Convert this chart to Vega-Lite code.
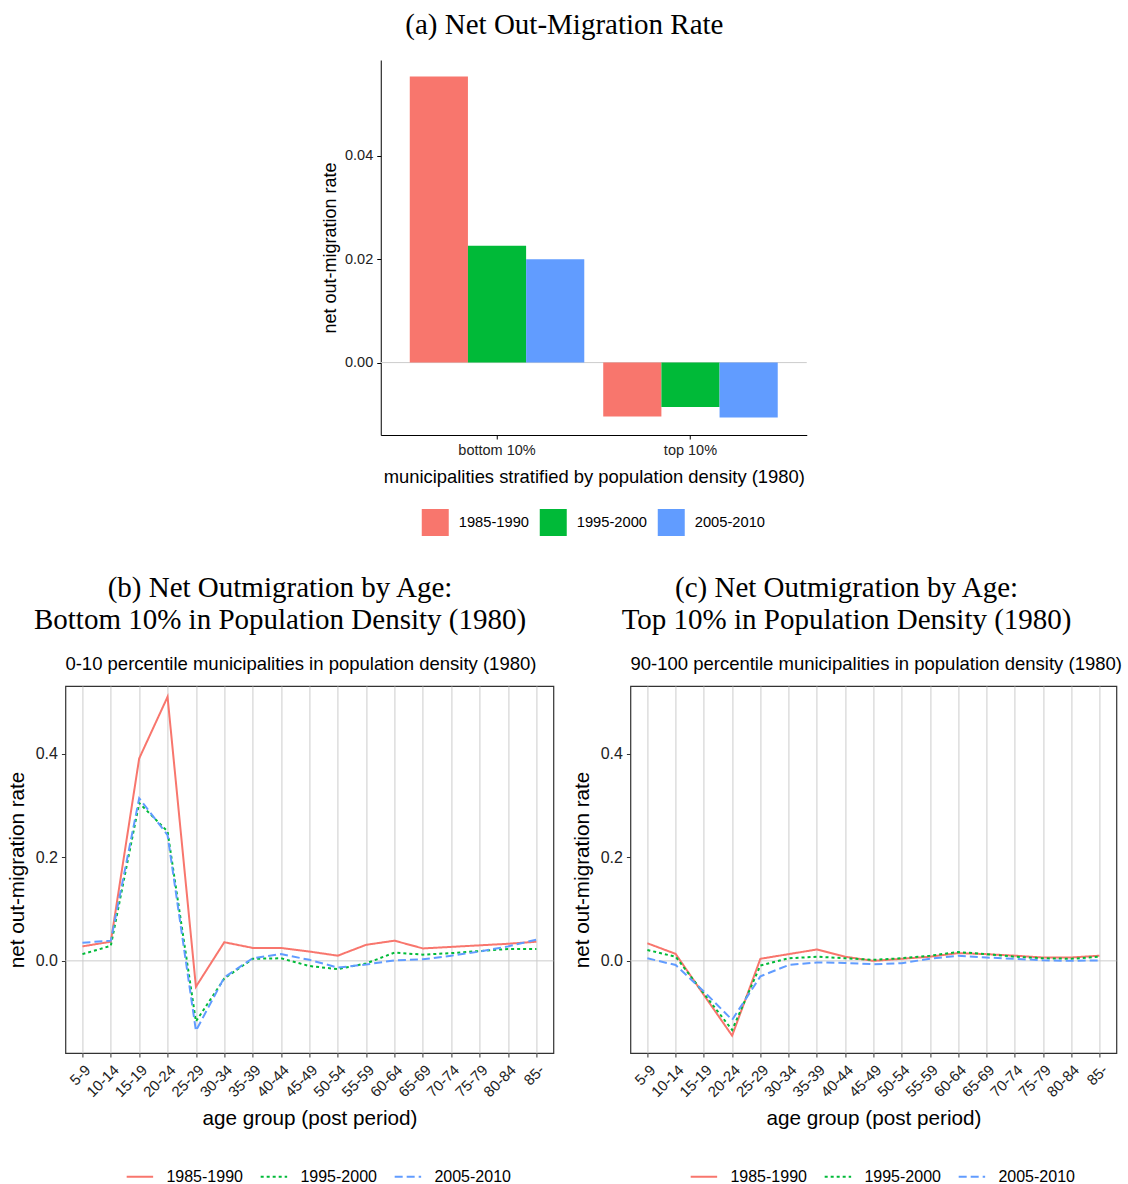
{
  "$schema": "https://vega.github.io/schema/vega-lite/v6.json",
  "background": "white",
  "padding": {"left": 5, "right": 5, "top": 11, "bottom": 5},
  "config": {
    "font": "Liberation Sans",
    "view": {"stroke": null},
    "axis": {"labelFont": "Liberation Sans", "titleFont": "Liberation Sans", "titleFontWeight": "normal", "labelColor": "#222222", "titleColor": "#000000", "domainColor": "#000000", "tickColor": "#333333"},
    "legend": {"labelFont": "Liberation Sans", "labelColor": "#000000", "layout": {"bottom": {"anchor": "middle"}}},
    "title": {"font": "Liberation Serif", "fontWeight": "normal", "color": "#000000"}
  },
  "datasets": {
    "bars": [
      {"region": "bottom 10%", "period": "1985-1990", "rate": 0.0553},
      {"region": "bottom 10%", "period": "1995-2000", "rate": 0.0226},
      {"region": "bottom 10%", "period": "2005-2010", "rate": 0.0200},
      {"region": "top 10%", "period": "1985-1990", "rate": -0.0104},
      {"region": "top 10%", "period": "1995-2000", "rate": -0.0086},
      {"region": "top 10%", "period": "2005-2010", "rate": -0.0106}
    ],
    "bottom": [
      {"age": "5-9", "period": "1985-1990", "rate": 0.028},
      {"age": "10-14", "period": "1985-1990", "rate": 0.037},
      {"age": "15-19", "period": "1985-1990", "rate": 0.391},
      {"age": "20-24", "period": "1985-1990", "rate": 0.510},
      {"age": "25-29", "period": "1985-1990", "rate": -0.050},
      {"age": "30-34", "period": "1985-1990", "rate": 0.036},
      {"age": "35-39", "period": "1985-1990", "rate": 0.025},
      {"age": "40-44", "period": "1985-1990", "rate": 0.025},
      {"age": "45-49", "period": "1985-1990", "rate": 0.018},
      {"age": "50-54", "period": "1985-1990", "rate": 0.010},
      {"age": "55-59", "period": "1985-1990", "rate": 0.031},
      {"age": "60-64", "period": "1985-1990", "rate": 0.039},
      {"age": "65-69", "period": "1985-1990", "rate": 0.024},
      {"age": "70-74", "period": "1985-1990", "rate": 0.027},
      {"age": "75-79", "period": "1985-1990", "rate": 0.030},
      {"age": "80-84", "period": "1985-1990", "rate": 0.033},
      {"age": "85-", "period": "1985-1990", "rate": 0.037},
      {"age": "5-9", "period": "1995-2000", "rate": 0.013},
      {"age": "10-14", "period": "1995-2000", "rate": 0.029},
      {"age": "15-19", "period": "1995-2000", "rate": 0.305},
      {"age": "20-24", "period": "1995-2000", "rate": 0.250},
      {"age": "25-29", "period": "1995-2000", "rate": -0.117},
      {"age": "30-34", "period": "1995-2000", "rate": -0.034},
      {"age": "35-39", "period": "1995-2000", "rate": 0.004},
      {"age": "40-44", "period": "1995-2000", "rate": 0.005},
      {"age": "45-49", "period": "1995-2000", "rate": -0.010},
      {"age": "50-54", "period": "1995-2000", "rate": -0.016},
      {"age": "55-59", "period": "1995-2000", "rate": -0.005},
      {"age": "60-64", "period": "1995-2000", "rate": 0.016},
      {"age": "65-69", "period": "1995-2000", "rate": 0.012},
      {"age": "70-74", "period": "1995-2000", "rate": 0.015},
      {"age": "75-79", "period": "1995-2000", "rate": 0.019},
      {"age": "80-84", "period": "1995-2000", "rate": 0.023},
      {"age": "85-", "period": "1995-2000", "rate": 0.023},
      {"age": "5-9", "period": "2005-2010", "rate": 0.035},
      {"age": "10-14", "period": "2005-2010", "rate": 0.039},
      {"age": "15-19", "period": "2005-2010", "rate": 0.314},
      {"age": "20-24", "period": "2005-2010", "rate": 0.243},
      {"age": "25-29", "period": "2005-2010", "rate": -0.135},
      {"age": "30-34", "period": "2005-2010", "rate": -0.032},
      {"age": "35-39", "period": "2005-2010", "rate": 0.005},
      {"age": "40-44", "period": "2005-2010", "rate": 0.013},
      {"age": "45-49", "period": "2005-2010", "rate": 0.002},
      {"age": "50-54", "period": "2005-2010", "rate": -0.013},
      {"age": "55-59", "period": "2005-2010", "rate": -0.007},
      {"age": "60-64", "period": "2005-2010", "rate": 0.001},
      {"age": "65-69", "period": "2005-2010", "rate": 0.003},
      {"age": "70-74", "period": "2005-2010", "rate": 0.010},
      {"age": "75-79", "period": "2005-2010", "rate": 0.018},
      {"age": "80-84", "period": "2005-2010", "rate": 0.028},
      {"age": "85-", "period": "2005-2010", "rate": 0.041}
    ],
    "top": [
      {"age": "5-9", "period": "1985-1990", "rate": 0.034},
      {"age": "10-14", "period": "1985-1990", "rate": 0.0135},
      {"age": "15-19", "period": "1985-1990", "rate": -0.066},
      {"age": "20-24", "period": "1985-1990", "rate": -0.1445},
      {"age": "25-29", "period": "1985-1990", "rate": 0.004},
      {"age": "30-34", "period": "1985-1990", "rate": 0.013},
      {"age": "35-39", "period": "1985-1990", "rate": 0.022},
      {"age": "40-44", "period": "1985-1990", "rate": 0.008},
      {"age": "45-49", "period": "1985-1990", "rate": 0.000},
      {"age": "50-54", "period": "1985-1990", "rate": 0.004},
      {"age": "55-59", "period": "1985-1990", "rate": 0.008},
      {"age": "60-64", "period": "1985-1990", "rate": 0.015},
      {"age": "65-69", "period": "1985-1990", "rate": 0.013},
      {"age": "70-74", "period": "1985-1990", "rate": 0.010},
      {"age": "75-79", "period": "1985-1990", "rate": 0.0065},
      {"age": "80-84", "period": "1985-1990", "rate": 0.0065},
      {"age": "85-", "period": "1985-1990", "rate": 0.010},
      {"age": "5-9", "period": "1995-2000", "rate": 0.021},
      {"age": "10-14", "period": "1995-2000", "rate": 0.008},
      {"age": "15-19", "period": "1995-2000", "rate": -0.063},
      {"age": "20-24", "period": "1995-2000", "rate": -0.1335},
      {"age": "25-29", "period": "1995-2000", "rate": -0.009},
      {"age": "30-34", "period": "1995-2000", "rate": 0.005},
      {"age": "35-39", "period": "1995-2000", "rate": 0.008},
      {"age": "40-44", "period": "1995-2000", "rate": 0.005},
      {"age": "45-49", "period": "1995-2000", "rate": 0.002},
      {"age": "50-54", "period": "1995-2000", "rate": 0.005},
      {"age": "55-59", "period": "1995-2000", "rate": 0.010},
      {"age": "60-64", "period": "1995-2000", "rate": 0.017},
      {"age": "65-69", "period": "1995-2000", "rate": 0.013},
      {"age": "70-74", "period": "1995-2000", "rate": 0.008},
      {"age": "75-79", "period": "1995-2000", "rate": 0.005},
      {"age": "80-84", "period": "1995-2000", "rate": 0.004},
      {"age": "85-", "period": "1995-2000", "rate": 0.008},
      {"age": "5-9", "period": "2005-2010", "rate": 0.005},
      {"age": "10-14", "period": "2005-2010", "rate": -0.008},
      {"age": "15-19", "period": "2005-2010", "rate": -0.059},
      {"age": "20-24", "period": "2005-2010", "rate": -0.114},
      {"age": "25-29", "period": "2005-2010", "rate": -0.030},
      {"age": "30-34", "period": "2005-2010", "rate": -0.008},
      {"age": "35-39", "period": "2005-2010", "rate": -0.003},
      {"age": "40-44", "period": "2005-2010", "rate": -0.004},
      {"age": "45-49", "period": "2005-2010", "rate": -0.0065},
      {"age": "50-54", "period": "2005-2010", "rate": -0.0045},
      {"age": "55-59", "period": "2005-2010", "rate": 0.004},
      {"age": "60-64", "period": "2005-2010", "rate": 0.010},
      {"age": "65-69", "period": "2005-2010", "rate": 0.0065},
      {"age": "70-74", "period": "2005-2010", "rate": 0.004},
      {"age": "75-79", "period": "2005-2010", "rate": 0.001},
      {"age": "80-84", "period": "2005-2010", "rate": 0.000},
      {"age": "85-", "period": "2005-2010", "rate": 0.001}
    ],
    "zero": [{"ref": 0}]
  },
  "vconcat": [
    {
      "title": {"text": "(a) Net Out-Migration Rate", "fontSize": 29, "anchor": "middle", "frame": "bounds", "offset": 20},
      "width": 426,
      "height": 375,
      "layer": [
        {
          "data": {"name": "zero"},
          "mark": {"type": "rule", "color": "#cccccc", "strokeWidth": 1},
          "encoding": {"y": {"field": "ref", "type": "quantitative", "title": "net out-migration rate"}}
        },
        {
          "data": {"name": "bars"},
          "mark": {"type": "bar"},
          "encoding": {
            "x": {"field": "region", "type": "nominal", "scale": {"paddingInner": 0.098, "paddingOuter": 0.15},
                  "axis": {"title": "municipalities stratified by population density (1980)", "labelAngle": 0, "titleFontSize": 18.4, "labelFontSize": 14.5, "tickSize": 4, "labelPadding": 4, "titlePadding": 11, "tickColor": "#000000"}},
            "xOffset": {"field": "period", "type": "nominal"},
            "y": {"field": "rate", "type": "quantitative", "scale": {"domain": [-0.014, 0.0585], "nice": false, "zero": false},
                  "axis": {"values": [0, 0.02, 0.04], "format": ".2f", "grid": false, "title": "net out-migration rate", "titleFontSize": 18, "labelFontSize": 14.5, "tickSize": 4, "labelPadding": 4, "titlePadding": 5, "tickColor": "#000000"}},
            "color": {"field": "period", "type": "nominal", "scale": {"domain": ["1985-1990", "1995-2000", "2005-2010"], "range": ["#F8766D", "#00BA38", "#619CFF"]},
                      "legend": {"title": null, "orient": "bottom", "direction": "horizontal", "symbolType": "square", "symbolSize": 729, "symbolStrokeWidth": 0, "labelFontSize": 14.7, "labelOffset": 10, "columnPadding": 10, "offset": 23}}
          }
        }
      ]
    },
    {
      "hconcat": [
        {
          "title": {"text": ["(b) Net Outmigration by Age:", "Bottom 10% in Population Density (1980)"], "fontSize": 29, "lineHeight": 32, "anchor": "middle", "frame": "bounds", "offset": 19},
          "vconcat": [
            {
              "title": {"text": "0-10 percentile municipalities in population density (1980)", "font": "Liberation Sans", "fontSize": 18.5, "anchor": "start", "frame": "group", "offset": 13},
              "width": 488,
              "height": 367,
              "view": {"stroke": "#333333", "strokeWidth": 1.2},
              "layer": [
                {
                  "data": {"name": "zero"},
                  "mark": {"type": "rule", "color": "#cccccc", "strokeWidth": 1},
                  "encoding": {"y": {"field": "ref", "type": "quantitative", "title": "net out-migration rate"}}
                },
                {
                  "data": {"name": "bottom"},
                  "mark": {"type": "line", "strokeWidth": 2},
                  "encoding": {
                    "x": {"field": "age", "type": "ordinal", "sort": ["5-9","10-14","15-19","20-24","25-29","30-34","35-39","40-44","45-49","50-54","55-59","60-64","65-69","70-74","75-79","80-84","85-"], "scale": {"type": "point", "padding": 0.6},
                          "axis": {"title": "age group (post period)", "labelAngle": -45, "labelFontSize": 15, "titleFontSize": 20.7, "domain": false, "grid": true, "gridColor": "#cccccc", "tickSize": 4, "labelPadding": 5, "titlePadding": 9}},
                    "y": {"field": "rate", "type": "quantitative", "scale": {"domain": [-0.178, 0.531], "nice": false, "zero": false},
                          "axis": {"values": [0, 0.2, 0.4], "format": ".1f", "grid": false, "domain": false, "title": "net out-migration rate", "titleFontSize": 20.7, "labelFontSize": 16, "tickSize": 4, "labelPadding": 4, "titlePadding": 8}},
                    "color": {"field": "period", "type": "nominal", "scale": {"domain": ["1985-1990", "1995-2000", "2005-2010"], "range": ["#F8766D", "#00BA38", "#619CFF"]},
                              "legend": {"title": null, "orient": "none", "legendX": 60, "legendY": 476, "direction": "horizontal", "symbolType": "stroke", "symbolSize": 700, "symbolStrokeWidth": 2, "labelFontSize": 16, "labelOffset": 12, "columnPadding": 13}},
                    "strokeDash": {"field": "period", "type": "nominal", "scale": {"domain": ["1985-1990", "1995-2000", "2005-2010"], "range": [[1, 0], [3, 3], [8, 4]]},
                              "legend": {"title": null, "orient": "none", "legendX": 60, "legendY": 476, "direction": "horizontal", "symbolType": "stroke", "symbolSize": 700, "symbolStrokeWidth": 2, "labelFontSize": 16, "labelOffset": 12, "columnPadding": 13}}
                  }
                }
              ]
            }
          ]
        },
        {
          "title": {"text": ["(c) Net Outmigration by Age:", "Top 10% in Population Density (1980)"], "fontSize": 29, "lineHeight": 32, "anchor": "middle", "frame": "bounds", "offset": 19},
          "vconcat": [
            {
              "title": {"text": "90-100 percentile municipalities in population density (1980)", "font": "Liberation Sans", "fontSize": 18.5, "anchor": "start", "frame": "group", "offset": 13},
              "width": 486,
              "height": 367,
              "view": {"stroke": "#333333", "strokeWidth": 1.2},
              "layer": [
                {
                  "data": {"name": "zero"},
                  "mark": {"type": "rule", "color": "#cccccc", "strokeWidth": 1},
                  "encoding": {"y": {"field": "ref", "type": "quantitative", "title": "net out-migration rate"}}
                },
                {
                  "data": {"name": "top"},
                  "mark": {"type": "line", "strokeWidth": 2},
                  "encoding": {
                    "x": {"field": "age", "type": "ordinal", "sort": ["5-9","10-14","15-19","20-24","25-29","30-34","35-39","40-44","45-49","50-54","55-59","60-64","65-69","70-74","75-79","80-84","85-"], "scale": {"type": "point", "padding": 0.6},
                          "axis": {"title": "age group (post period)", "labelAngle": -45, "labelFontSize": 15, "titleFontSize": 20.7, "domain": false, "grid": true, "gridColor": "#cccccc", "tickSize": 4, "labelPadding": 5, "titlePadding": 9}},
                    "y": {"field": "rate", "type": "quantitative", "scale": {"domain": [-0.178, 0.531], "nice": false, "zero": false},
                          "axis": {"values": [0, 0.2, 0.4], "format": ".1f", "grid": false, "domain": false, "title": "net out-migration rate", "titleFontSize": 20.7, "labelFontSize": 16, "tickSize": 4, "labelPadding": 4, "titlePadding": 8}},
                    "color": {"field": "period", "type": "nominal", "scale": {"domain": ["1985-1990", "1995-2000", "2005-2010"], "range": ["#F8766D", "#00BA38", "#619CFF"]},
                              "legend": {"title": null, "orient": "none", "legendX": 59, "legendY": 476, "direction": "horizontal", "symbolType": "stroke", "symbolSize": 700, "symbolStrokeWidth": 2, "labelFontSize": 16, "labelOffset": 12, "columnPadding": 13}},
                    "strokeDash": {"field": "period", "type": "nominal", "scale": {"domain": ["1985-1990", "1995-2000", "2005-2010"], "range": [[1, 0], [3, 3], [8, 4]]},
                              "legend": {"title": null, "orient": "none", "legendX": 59, "legendY": 476, "direction": "horizontal", "symbolType": "stroke", "symbolSize": 700, "symbolStrokeWidth": 2, "labelFontSize": 16, "labelOffset": 12, "columnPadding": 13}}
                  }
                }
              ]
            }
          ]
        }
      ],
      "spacing": 15,
      "resolve": {"scale": {"color": "independent", "strokeDash": "independent"}, "legend": {"color": "independent", "strokeDash": "independent"}}
    }
  ],
  "spacing": 37,
  "center": true,
  "resolve": {"scale": {"color": "independent", "strokeDash": "independent"}, "legend": {"color": "independent", "strokeDash": "independent"}}
}
